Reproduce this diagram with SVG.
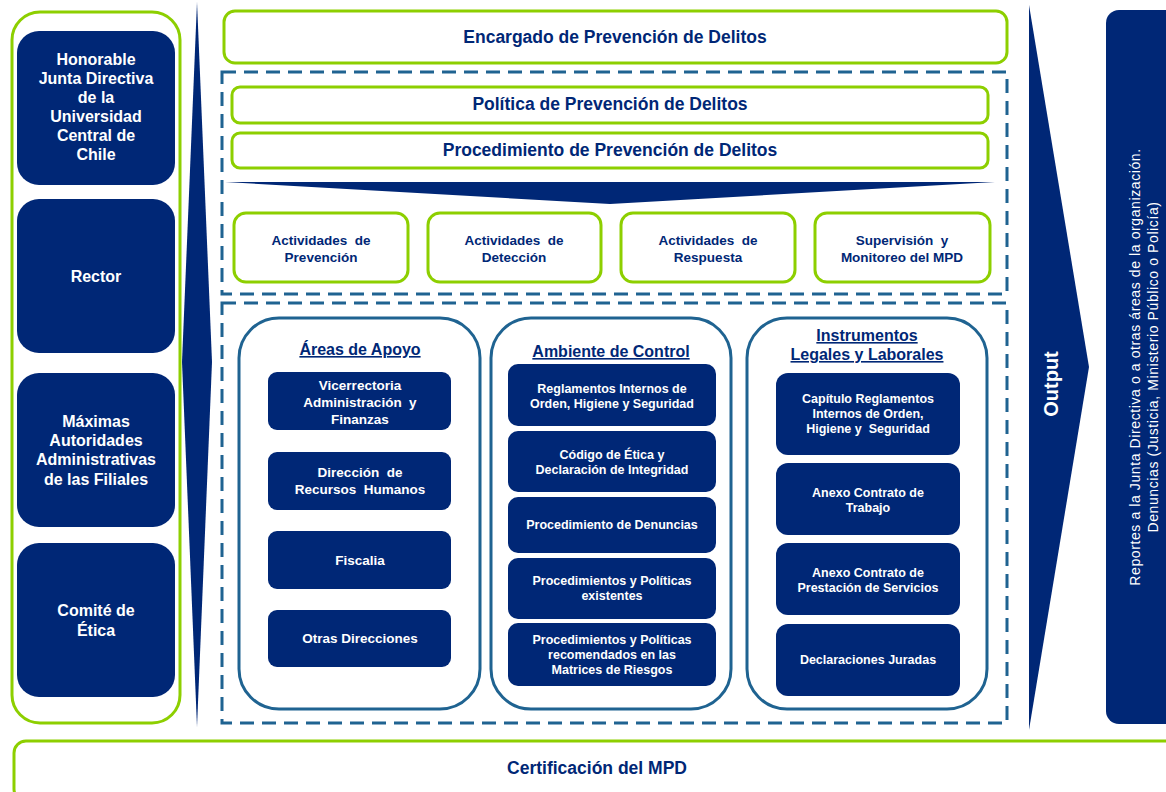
<svg xmlns="http://www.w3.org/2000/svg" width="1166" height="792" viewBox="0 0 1166 792">
<style>
.g{fill:#fff;stroke:#8DCF00;stroke-width:3}
.d{fill:none;stroke:#1F6391;stroke-width:3;stroke-dasharray:14 8}
.grp{fill:#fff;stroke:#1F6391;stroke-width:3}
.n{fill:#002776}
.tw{fill:#fff;font-family:"Liberation Sans",Arial,sans-serif;font-weight:bold;text-anchor:middle}
.tn{fill:#002776;font-family:"Liberation Sans",Arial,sans-serif;font-weight:bold;text-anchor:middle}
.l{font-size:16px}
.xl{font-size:17.5px}
.s{font-size:12.5px}
.a{font-size:13.5px}
.h{font-size:16px;text-decoration:underline}
.r{font-size:14px;font-weight:normal;letter-spacing:0.6px}
</style>
<rect width="1166" height="792" fill="#fff"/>

<g id="connectors">
<polygon class="n" points="197,2 212,362 197,727 182,362"/>
<polygon class="n" points="225,182 995,182 610,204"/>
<polygon class="n" points="1029,5 1089,367 1029,730"/>
<text class="tw" style="font-size:20px" transform="translate(1058,384) rotate(-90)">Output</text>
</g>

<g id="left-column">
<rect class="g" x="12" y="12" width="168" height="711" rx="28"/>
</g>
<g id="honorable">
<rect class="n" x="17" y="31" width="158" height="154" rx="22"/>
<text class="tw l"><tspan x="96" y="65">Honorable</tspan><tspan x="96" y="84">Junta Directiva</tspan><tspan x="96" y="103">de la</tspan><tspan x="96" y="122">Universidad</tspan><tspan x="96" y="141">Central de</tspan><tspan x="96" y="160">Chile</tspan></text>
</g>
<g id="rector">
<rect class="n" x="17" y="199" width="158" height="154" rx="22"/>
<text class="tw l" x="96" y="282">Rector</text>
</g>
<g id="maximas">
<rect class="n" x="17" y="373" width="158" height="154" rx="22"/>
<text class="tw l"><tspan x="96" y="427">Máximas</tspan><tspan x="96" y="446">Autoridades</tspan><tspan x="96" y="465">Administrativas</tspan><tspan x="96" y="485">de las Filiales</tspan></text>
</g>
<g id="comite">
<rect class="n" x="17" y="543" width="158" height="154" rx="22"/>
<text class="tw l"><tspan x="96" y="616">Comité de</tspan><tspan x="96" y="636">Ética</tspan></text>
</g>

<g id="encargado">
<rect class="g" x="224" y="11" width="783" height="52" rx="11"/>
<text class="tn xl" x="615" y="43">Encargado de Prevención de Delitos</text>
</g>

<g id="dashed-boxes">
<rect class="d" x="222" y="72" width="785" height="222"/>
<rect class="d" x="222" y="303" width="785" height="420"/>
</g>

<g id="politica">
<rect class="g" x="232" y="87" width="756" height="36" rx="8"/>
<text class="tn xl" x="610" y="110">Política de Prevención de Delitos</text>
</g>
<g id="procedimiento">
<rect class="g" x="232" y="133" width="756" height="35" rx="8"/>
<text class="tn xl" x="610" y="156">Procedimiento de Prevención de Delitos</text>
</g>

<g id="act-prevencion">
<rect class="g" x="234" y="213" width="174" height="69" rx="12"/>
<text class="tn a" xml:space="preserve"><tspan x="321" y="245">Actividades  de</tspan><tspan x="321" y="262">Prevención</tspan></text>
</g>
<g id="act-deteccion">
<rect class="g" x="428" y="213" width="173" height="69" rx="12"/>
<text class="tn a" xml:space="preserve"><tspan x="514" y="245">Actividades  de</tspan><tspan x="514" y="262">Detección</tspan></text>
</g>
<g id="act-respuesta">
<rect class="g" x="621" y="213" width="174" height="69" rx="12"/>
<text class="tn a" xml:space="preserve"><tspan x="708" y="245">Actividades  de</tspan><tspan x="708" y="262">Respuesta</tspan></text>
</g>
<g id="supervision">
<rect class="g" x="815" y="213" width="175" height="69" rx="12"/>
<text class="tn a" xml:space="preserve"><tspan x="902" y="245">Supervisión  y</tspan><tspan x="902" y="262">Monitoreo del MPD</tspan></text>
</g>

<g id="areas-apoyo">
<rect class="grp" x="239" y="318" width="241" height="391" rx="40"/>
<text class="tn h" x="360" y="355">Áreas de Apoyo</text>
</g>
<g id="vicerrectoria">
<rect class="n" x="268" y="372" width="183" height="58" rx="9"/>
<text class="tw a" xml:space="preserve"><tspan x="360" y="390">Vicerrectoria</tspan><tspan x="360" y="407">Administración  y</tspan><tspan x="360" y="424">Finanzas</tspan></text>
</g>
<g id="direccion-rrhh">
<rect class="n" x="268" y="452" width="183" height="58" rx="9"/>
<text class="tw a" xml:space="preserve"><tspan x="360" y="477">Dirección  de</tspan><tspan x="360" y="494">Recursos  Humanos</tspan></text>
</g>
<g id="fiscalia">
<rect class="n" x="268" y="531" width="183" height="58" rx="9"/>
<text class="tw a" x="360" y="565">Fiscalia</text>
</g>
<g id="otras-direcciones">
<rect class="n" x="268" y="610" width="183" height="57" rx="9"/>
<text class="tw a" x="360" y="643">Otras Direcciones</text>
</g>

<g id="ambiente-control">
<rect class="grp" x="491" y="318" width="240" height="391" rx="40"/>
<text class="tn h" x="611" y="357">Ambiente de Control</text>
</g>
<g id="reglamentos">
<rect class="n" x="508" y="364" width="208" height="62" rx="10"/>
<text class="tw s"><tspan x="612" y="393">Reglamentos Internos de</tspan><tspan x="612" y="408">Orden, Higiene y Seguridad</tspan></text>
</g>
<g id="codigo-etica">
<rect class="n" x="508" y="431" width="208" height="61" rx="10"/>
<text class="tw s"><tspan x="612" y="459">Código de Ética y</tspan><tspan x="612" y="474">Declaración de Integridad</tspan></text>
</g>
<g id="proc-denuncias">
<rect class="n" x="508" y="497" width="208" height="56" rx="10"/>
<text class="tw s" x="612" y="529">Procedimiento de Denuncias</text>
</g>
<g id="proc-existentes">
<rect class="n" x="508" y="558" width="208" height="61" rx="10"/>
<text class="tw s"><tspan x="612" y="585">Procedimientos y Políticas</tspan><tspan x="612" y="600">existentes</tspan></text>
</g>
<g id="proc-recomendados">
<rect class="n" x="508" y="623" width="208" height="63" rx="10"/>
<text class="tw s"><tspan x="612" y="644">Procedimientos y Políticas</tspan><tspan x="612" y="659">recomendados en las</tspan><tspan x="612" y="674">Matrices de Riesgos</tspan></text>
</g>

<g id="instrumentos">
<rect class="grp" x="747" y="318" width="240" height="391" rx="40"/>
<text class="tn h"><tspan x="867" y="341">Instrumentos</tspan><tspan x="867" y="360">Legales y Laborales</tspan></text>
</g>
<g id="capitulo-reglamentos">
<rect class="n" x="776" y="373" width="184" height="82" rx="12"/>
<text class="tw s" xml:space="preserve"><tspan x="868" y="403">Capítulo Reglamentos</tspan><tspan x="868" y="418">Internos de Orden,</tspan><tspan x="868" y="433">Higiene y  Seguridad</tspan></text>
</g>
<g id="anexo-trabajo">
<rect class="n" x="776" y="463" width="184" height="72" rx="12"/>
<text class="tw s"><tspan x="868" y="497">Anexo Contrato de</tspan><tspan x="868" y="512">Trabajo</tspan></text>
</g>
<g id="anexo-servicios">
<rect class="n" x="776" y="543" width="184" height="72" rx="12"/>
<text class="tw s"><tspan x="868" y="577">Anexo Contrato de</tspan><tspan x="868" y="592">Prestación de Servicios</tspan></text>
</g>
<g id="declaraciones">
<rect class="n" x="776" y="624" width="184" height="72" rx="12"/>
<text class="tw s" x="868" y="664">Declaraciones Juradas</text>
</g>

<g id="reportes">
<rect class="n" x="1106" y="10" width="80" height="714" rx="13"/>
<text class="tw r" transform="translate(1140,367) rotate(-90)">Reportes a la Junta Directiva o a otras áreas de la organización.</text>
<text class="tw r" transform="translate(1158,367) rotate(-90)">Denuncias (Justicia, Ministerio Público o Policía)</text>
</g>

<g id="certificacion">
<rect class="g" x="14" y="741" width="1170" height="60" rx="12"/>
<text class="tn xl" x="597" y="774">Certificación del MPD</text>
</g>
</svg>
